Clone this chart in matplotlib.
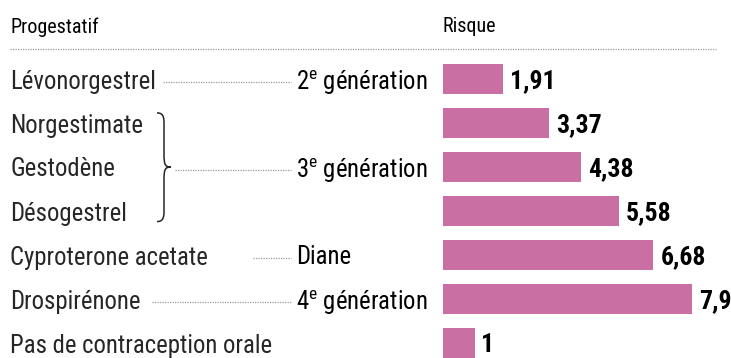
import matplotlib
matplotlib.use("Agg")
import matplotlib.pyplot as plt
import matplotlib.transforms as mtransforms
from matplotlib.path import Path
from matplotlib.patches import PathPatch
from matplotlib import font_manager

# ----------------------------
# Data
# ----------------------------
progestatifs = [
    "Lévonorgestrel",
    "Norgestimate",
    "Gestodène",
    "Désogestrel",
    "Cyproterone acetate",
    "Drospirénone",
    "Pas de contraception orale",
]
risques = [1.91, 3.37, 4.38, 5.58, 6.68, 7.9, 1.0]
value_labels = ["1,91", "3,37", "4,38", "5,58", "6,68", "7,9", "1"]

# group label, row it sits on, x where its dotted leader starts
groups = [
    ("2$^{\\mathrm{e}}$ génération", 0, 163),
    ("3$^{\\mathrm{e}}$ génération", 2, 175),
    ("Diane", 4, 253),
    ("4$^{\\mathrm{e}}$ génération", 5, 152),
]

# ----------------------------
# Fonts
# ----------------------------
installed = {f.name for f in font_manager.fontManager.ttflist}
narrow = next((f for f in ["Roboto Condensed", "Liberation Sans Narrow",
                           "DejaVu Sans Condensed", "Liberation Sans"]
               if f in installed), "DejaVu Sans")
plt.rcParams["font.family"] = [narrow, "DejaVu Sans"]
plt.rcParams["mathtext.fontset"] = "custom"
plt.rcParams["mathtext.rm"] = narrow

BAR = "#C96FA3"
INK = "#262626"
DOT = "#9a9a9a"

W, H = 731, 358
fig = plt.figure(figsize=(W / 100, H / 100), dpi=100)
fig.patch.set_facecolor("white")

# bar area, one row every ~44 px starting at y=79
x0 = 443 / W
ax = fig.add_axes([x0, 0, 1 - x0, 1])
px_per_unit = 31.5
ax.set_xlim(0, (W - 443) / px_per_unit)
row0, step = 79, 44.0
ax.set_ylim((H - row0) / step, -row0 / step)
ax.axis("off")

rows = list(range(len(progestatifs)))
ax.barh(rows, risques, height=0.7, color=BAR, edgecolor="none")

for r, v, lab in zip(rows, risques, value_labels):
    ax.annotate(lab, (v, r), xytext=(5, 0), textcoords="offset points",
                va="center_baseline", ha="left", fontsize=18.5,
                fontweight="bold", color="black")

# mixed transform: x in figure pixels, y in row units
tr = mtransforms.blended_transform_factory(
    mtransforms.Affine2D().scale(1 / W, 1) + fig.transFigure, ax.transData)

# header
for xpix, title in [(10, "Progestatif"), (443, "Risque")]:
    fig.text(xpix / W, 1 - 27 / H, title, fontsize=14.5, color="black",
             va="center")
fig.add_artist(plt.Line2D([10 / W, 716 / W], [1 - 49 / H] * 2,
                          transform=fig.transFigure, color=DOT,
                          lw=0.9, ls=(0, (1, 1))))

# row names
for r, name in zip(rows, progestatifs):
    ax.text(10, r, name, transform=tr, fontsize=17.8, color=INK,
            va="center_baseline", ha="left", clip_on=False)

# group names with dotted leaders
for label, r, start in groups:
    ax.text(296, r, label, transform=tr, fontsize=17.8, color="black",
            va="center_baseline", ha="left", clip_on=False)
    ax.plot([start, 291], [r + 0.06, r + 0.06], transform=tr,
            color=DOT, lw=0.9, ls=(0, (1, 1)), clip_on=False)

# curly brace for the 3rd generation group
bx, tip = 157, 171
top, mid, bot = 0.77, 2.0, 3.24
verts = [
    (bx, top),
    (bx + 8, top), (bx + 7, top + 0.15), (bx + 7, top + 0.4),
    (bx + 7, mid - 0.3),
    (bx + 7, mid - 0.05), (bx + 8, mid), (tip, mid),
    (bx + 8, mid), (bx + 7, mid + 0.05), (bx + 7, mid + 0.3),
    (bx + 7, bot - 0.4),
    (bx + 7, bot - 0.15), (bx + 8, bot), (bx, bot),
]
codes = ([Path.MOVETO] + [Path.CURVE4] * 3 + [Path.LINETO]
         + [Path.CURVE4] * 6 + [Path.LINETO] + [Path.CURVE4] * 3)
fig.add_artist(PathPatch(Path(verts, codes), transform=tr, fill=False,
                         edgecolor=INK, lw=1.1))

fig.savefig("out.png", dpi=100)
plt.close(fig)
